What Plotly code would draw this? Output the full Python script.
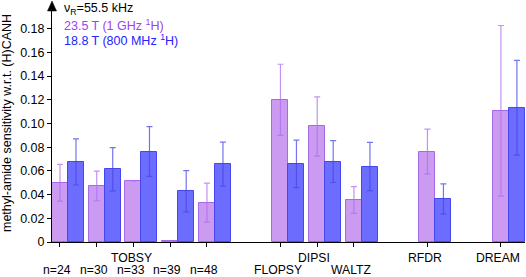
import plotly.graph_objects as go

slots = [0, 1, 2, 3, 4, 6, 7, 8, 10, 12]
bottom_labels = ["n=24", "n=30", "n=33", "n=39", "n=48", "FLOPSY", "DIPSI", "WALTZ", "RFDR", "DREAM"]
label_rows = [2, 2, 2, 2, 2, 2, 1, 2, 1, 1]

ghz1_vals = [0.050, 0.0473, 0.0516, 0.0005, 0.0332, 0.120, 0.0975, 0.0355, 0.0763, 0.1107]
ghz1_err = [0.0155, 0.0125, None, None, 0.0165, 0.030, 0.025, 0.0113, 0.019, 0.072]
mhz800_vals = [0.0676, 0.0614, 0.0763, 0.0428, 0.0657, 0.0659, 0.0679, 0.0637, 0.0363, 0.1133]
mhz800_err = [0.0195, 0.0183, 0.021, 0.0174, 0.0185, 0.020, 0.0177, 0.0203, 0.0128, 0.040]

y_ticks = [0, 0.02, 0.04, 0.06, 0.08, 0.10, 0.12, 0.14, 0.16, 0.18]
y_tick_text = ["0", "0.02", "0.04", "0.06", "0.08", "0.10", "0.12", "0.14", "0.16", "0.18"]

W = 0.435
font = "Liberation Sans, Arial, sans-serif"
PLOT_H = 277 - 5 - 35

fig = go.Figure()
fig.add_trace(go.Bar(
    x=slots, y=ghz1_vals, width=W, offset=-W / 2,
    marker=dict(color="rgba(190,130,238,0.8)", line=dict(color="rgba(160,95,225,0.9)", width=1)),
    error_y=dict(type="data", array=[e if e is not None else 0 for e in ghz1_err],
                 visible=True, color="rgba(175,110,240,0.75)", thickness=1.2, width=3),
    showlegend=False,
))
fig.add_trace(go.Bar(
    x=slots, y=mhz800_vals, width=W, offset=W / 2,
    marker=dict(color="rgba(100,100,255,0.95)", line=dict(color="rgba(70,70,240,1)", width=1)),
    error_y=dict(type="data", array=mhz800_err, visible=True,
                 color="rgba(70,70,230,0.75)", thickness=1.2, width=3),
    showlegend=False,
))

for s, lab, row in zip(slots, bottom_labels, label_rows):
    fig.add_annotation(x=s - 0.08, xref="x", y=-(15.5 if row == 1 else 28.3) / PLOT_H, yref="paper",
                       text=lab, showarrow=False, font=dict(size=12.2, color="black", family=font),
                       xanchor="center", yanchor="middle")
fig.add_annotation(x=2 - 0.05, xref="x", y=-15.5 / PLOT_H, yref="paper", text="TOBSY", showarrow=False,
                   font=dict(size=12.2, color="black", family=font), xanchor="center", yanchor="middle")

legend_lines = [("ν<sub>R</sub>=55.5 kHz", "black"),
                ("23.5 T (1 GHz <sup>1</sup>H)", "#a040f0"),
                ("18.8 T (800 MHz <sup>1</sup>H)", "#2222ff")]
for i, (t, c) in enumerate(legend_lines):
    fig.add_annotation(x=0.022, xref="paper", y=1 - (4 + i * 15.5) / PLOT_H, yref="paper", text=t,
                       showarrow=False, font=dict(size=12.5, color=c, family=font),
                       xanchor="left", yanchor="middle")

fig.add_annotation(x=0, xref="paper", xshift=-45.5, y=0.5, yref="paper",
                   text="methyl-amide sensitivity w.r.t. (H)CANH", textangle=-90,
                   showarrow=False, font=dict(size=12.5, color="black", family=font),
                   xanchor="center", yanchor="middle")

fig.add_shape(type="path", xref="paper", yref="paper", xsizemode="pixel", ysizemode="pixel",
              xanchor=0, yanchor=1, path="M -4.5,-6 L 0,4 L 4.5,-6 Z",
              fillcolor="black", line=dict(color="black", width=0.5))

fig.update_layout(
    template="none",
    width=526, height=277,
    margin=dict(l=52, r=1, t=5, b=35),
    plot_bgcolor="white", paper_bgcolor="white",
    bargap=0, barmode="overlay",
    font=dict(family=font, size=12.5, color="black"),
    xaxis=dict(range=[-0.2175, 12.655], showgrid=False, zeroline=False, automargin=False,
               showline=True, linecolor="black", linewidth=1,
               tickmode="array", tickvals=slots, showticklabels=False,
               ticks="outside", ticklen=4, tickcolor="black"),
    yaxis=dict(range=[0, 0.2], showgrid=False, zeroline=False, automargin=False,
               showline=True, linecolor="black", linewidth=1,
               tickmode="array", tickvals=y_ticks, ticktext=y_tick_text,
               ticks="outside", ticklen=4, tickcolor="black",
               tickfont=dict(size=12.5)),
)

fig.write_html("out.html", config={"displayModeBar": False},
               post_script="document.body.style.margin='0px';document.body.style.overflow='hidden';")
